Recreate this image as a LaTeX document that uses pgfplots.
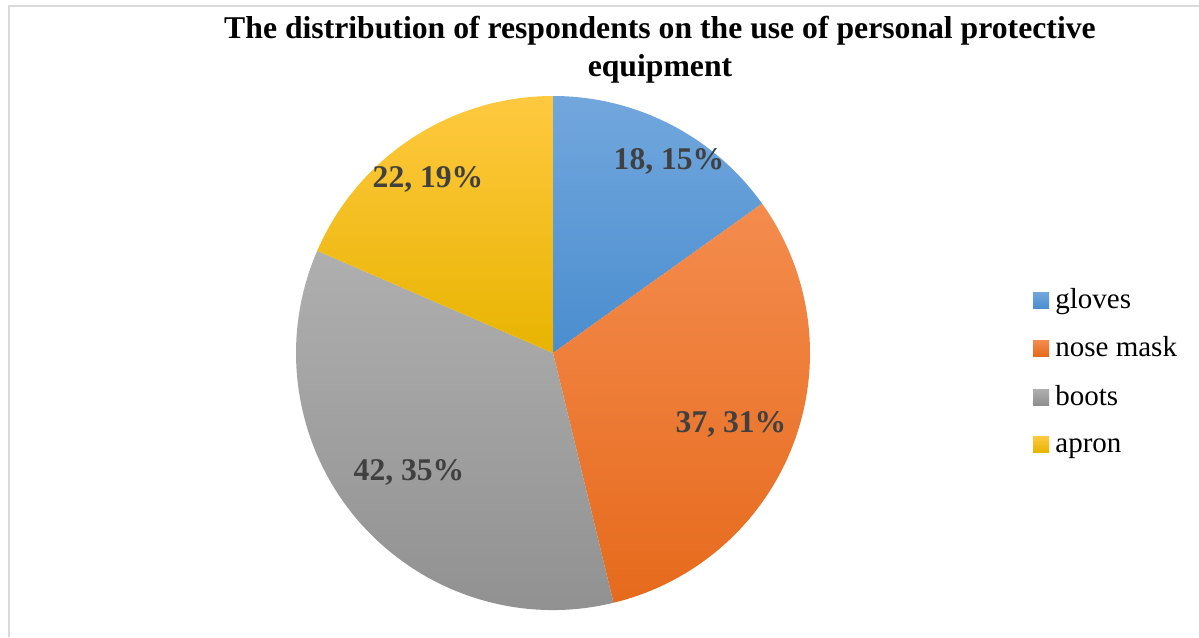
\documentclass[border=0pt]{standalone}
\usepackage{pgfplots}
\pgfplotsset{compat=1.18}
\usepackage{pgfplotstable}
\usepackage{fontspec}
\setmainfont{Liberation Serif}

\definecolor{gT}{HTML}{72A7DD}\definecolor{gB}{HTML}{4A8DCF}
\definecolor{nT}{HTML}{F48C4E}\definecolor{nB}{HTML}{E66A1C}
\definecolor{bT}{HTML}{AFAFAF}\definecolor{bB}{HTML}{8F8F8F}
\definecolor{aT}{HTML}{FFC940}\definecolor{aB}{HTML}{E8B400}
\definecolor{lbl}{HTML}{404040}
\definecolor{frame}{HTML}{D9D9D9}

\pgfplotstableread{
name value pct top bot lx ly legy
gloves 18 15 gT gB 669 161 308
{nose mask} 37 31 nT nB 731 424 356
boots 42 35 bT bB 409 472 405
apron 22 19 aT aB 428 179 452
}\datatable

\begin{document}
\begin{tikzpicture}
\begin{axis}[
  width=599.5pt, height=318.5pt, scale only axis,
  xmin=0, xmax=1199, ymin=0, ymax=637, y dir=reverse,
  hide axis, clip=false]
\coordinate (bbA) at (axis cs:0,637);
\coordinate (bbB) at (axis cs:1199,0);
% frame
\draw[frame, line width=1pt] (axis cs:9,637) -- (axis cs:9,6) -- (axis cs:1199,6);
% title
\node[anchor=base, font=\fontsize{15.85}{19}\selectfont\bfseries] at (axis cs:660,39) {The distribution of respondents on the use of personal protective};
\node[anchor=base, font=\fontsize{15.85}{19}\selectfont\bfseries] at (axis cs:660,76) {equipment};
% total
\def\total{0}
\pgfplotsforeachungrouped \i in {0,...,3}{%
  \pgfplotstablegetelem{\i}{value}\of\datatable
  \pgfmathsetmacro{\total}{\total+\pgfplotsretval}%
  \global\let\total\total
}
\def\startangle{90}
\pgfplotsforeachungrouped \i in {0,...,3}{%
  \pgfplotstablegetelem{\i}{value}\of\datatable \let\val\pgfplotsretval
  \pgfplotstablegetelem{\i}{top}\of\datatable \let\tc\pgfplotsretval
  \pgfplotstablegetelem{\i}{bot}\of\datatable \let\bc\pgfplotsretval
  \pgfplotstablegetelem{\i}{legy}\of\datatable \let\legy\pgfplotsretval
  \pgfplotstablegetelem{\i}{name}\of\datatable \let\nm\pgfplotsretval
  \pgfmathsetmacro{\endangle}{\startangle - \val/\total*360}%
  \pgfmathsetmacro{\legtop}{\legy-16}%
  \edef\temp{%
    \noexpand\shade[top color=\tc, bottom color=\bc]
      (axis cs:553,353) -- ++(\startangle:128.5pt)
      arc[start angle=\startangle, end angle=\endangle, radius=128.5pt] -- cycle;
    \noexpand\shade[top color=\tc, bottom color=\bc]
      (axis cs:1033,\legtop) rectangle (axis cs:1049,\legy);
    \noexpand\node[anchor=base west, inner sep=0pt, font=\noexpand\fontsize{14.5}{17}\noexpand\selectfont]
      at (axis cs:1055,\legy) {\nm};
  }\temp
  \global\let\startangle\endangle
}
% data labels
\pgfplotsforeachungrouped \i in {0,...,3}{%
  \pgfplotstablegetelem{\i}{value}\of\datatable \let\val\pgfplotsretval
  \pgfplotstablegetelem{\i}{pct}\of\datatable \let\pc\pgfplotsretval
  \pgfplotstablegetelem{\i}{lx}\of\datatable \let\lx\pgfplotsretval
  \pgfplotstablegetelem{\i}{ly}\of\datatable \let\ly\pgfplotsretval
  \edef\temp{%
    \noexpand\node[text=lbl, inner sep=0pt, font=\noexpand\fontsize{15.8}{18}\noexpand\selectfont\noexpand\bfseries]
      at (axis cs:\lx,\ly) {\val, \pc\noexpand\%};
  }\temp
}
\end{axis}
\pgfresetboundingbox
\path (bbA) rectangle (bbB);
\end{tikzpicture}
\end{document}
